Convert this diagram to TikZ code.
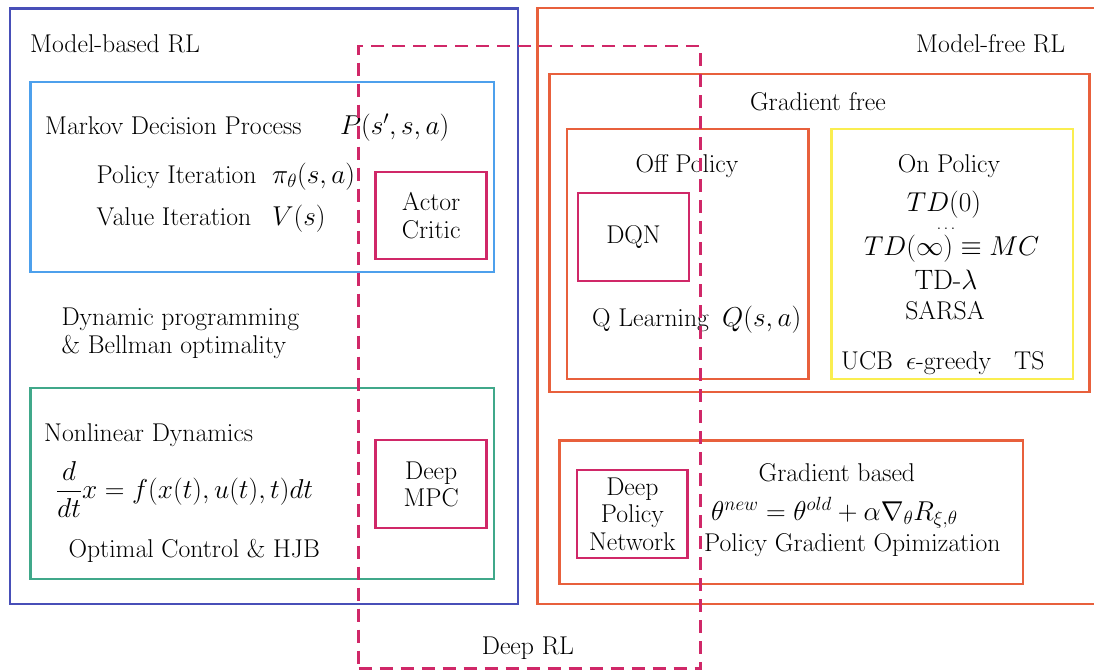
\RequirePackage{fix-cm}
\documentclass[tikz,border=0pt]{standalone}
\usepackage[OT1]{fontenc}
\renewcommand\rmdefault{cmr}
\usetikzlibrary{fit}

\definecolor{mbblue}{RGB}{72,79,184}
\definecolor{mdpblue}{RGB}{77,160,236}
\definecolor{ocgreen}{RGB}{64,168,138}
\definecolor{mforange}{RGB}{232,96,60}
\definecolor{deepcol}{RGB}{208,40,104}
\definecolor{onyellow}{RGB}{250,238,80}

\newcommand\figtxt{\fontencoding{OT1}\fontfamily{cmr}\fontsize{25.7}{27.5}\selectfont}
\newcommand\figmath{\fontencoding{OT1}\fontfamily{cmr}\fontsize{27.3}{30}\selectfont}

\begin{document}
\begin{tikzpicture}[x=1pt,y=-1pt,
  frame/.style={draw=#1, line width=2.6pt, inner sep=0pt},
  leaf/.style={draw=deepcol, line width=2.6pt, inner sep=0pt,
    minimum width=111pt, minimum height=87pt, align=center, font=\figtxt},
  lbl/.style={inner sep=0pt, font=\figtxt},
  mlbl/.style={inner sep=0pt, font=\figmath},
  deepframe/.style={draw=deepcol, line width=2.8pt, inner sep=0pt,
    dash pattern=on 13pt off 8pt},
]
\useasboundingbox (0,0) rectangle (1094,670);
\clip (0,0) rectangle (1094,670);

% ---- model-based side ----
\node[frame=mbblue,  fit={(10,8.5) (518,604)}]   (mb)     {};
\node[frame=mdpblue, fit={(30.5,82) (494,272)}]  (mdpbox) {};
\node[frame=ocgreen, fit={(30.5,388) (494,579)}] (ocbox)  {};

\node[lbl, anchor=base west] (mbtitle) at (30,52) {Model-based RL};
\node[lbl, anchor=base west] (mdp) at (45,134) {Markov Decision Process};
\node[mlbl, anchor=base west] (mdpP) at (340,134) {$P(s',s,a)$};
\node[lbl, anchor=base west] (pi) at (96.5,183) {Policy Iteration};
\node[mlbl, anchor=base west] (piM) at (272,183) {$\pi_\theta(s,a)$};
\node[lbl, anchor=base west] (vi) at (96.5,225) {Value Iteration};
\node[mlbl, anchor=base west] (viM) at (272,225) {$V(s)$};
\node[leaf] (ac) at (431.2,215.5) {Actor\\Critic};

\node[lbl, anchor=base west] (dp1) at (61.4,325) {Dynamic programming};
\node[lbl, anchor=base west] (dp2) at (61.4,353) {\& Bellman optimality};

\node[lbl, anchor=base west] (nd) at (44,441) {Nonlinear Dynamics};
\node[mlbl, anchor=base west] (ode) at (56,498.5)
  {$\displaystyle\frac{d}{dt}x=f(x(t),u(t),t)dt$};
\node[lbl, anchor=base west] (oc) at (68.4,557) {Optimal Control \& HJB};
\node[leaf, minimum height=88pt] (mpc) at (431.2,484) {Deep\\MPC};

% ---- model-free side ----
\node[frame=mforange, fit={(537.5,8) (1100,604)}]     (mf)    {};
\node[frame=mforange, fit={(549.5,74) (1089.5,392)}]  (gfbox) {};
\node[frame=mforange, fit={(567,129) (808.5,379)}]    (offbox){};
\node[frame=onyellow, fit={(831.5,129) (1073,379)}]   (onbox) {};
\node[frame=mforange, fit={(559.4,440.7) (1023,584)}] (gbbox) {};

\node[lbl, anchor=base west] (mftitle) at (916,52) {Model-free RL};
\node[lbl, anchor=base] (gf) at (818,110) {Gradient free};

\node[lbl, anchor=base] (off) at (687,172.7) {Off Policy};
\node[leaf, minimum height=88pt] (dqn) at (633.5,237) {DQN};
\node[lbl, anchor=base west] (ql) at (592,326.7) {Q Learning};
\node[mlbl, anchor=base west] (qM) at (722,326.7) {$Q(s,a)$};

\node[lbl, anchor=base] (on) at (949,172.7) {On Policy};
\node[mlbl, anchor=base] (td0) at (944,211.7) {$TD(0)$};
\node[inner sep=0pt, anchor=base, font=\fontsize{16}{18}\selectfont]
  (tddots) at (946,229) {$\ldots$};
\node[mlbl, anchor=base] (tdinf) at (951.7,255) {$TD(\infty)\equiv MC$};
\node[inner sep=0pt, anchor=base, font=\fontencoding{OT1}\fontfamily{cmr}\fontsize{28}{30}\selectfont]
  (tdl) at (946,289) {TD-$\lambda$};
\node[inner sep=0pt, anchor=base, font=\fontencoding{OT1}\fontfamily{cmr}\fontsize{25.7}{28}\selectfont]
  (sarsa) at (945,319) {SARSA};
\node[lbl, anchor=base west] (expl) at (841,369)
  {UCB\hspace{13pt}$\epsilon$-greedy\hspace{23pt}TS};

\node[leaf, minimum width=110.7pt, minimum height=87.7pt] (dpn) at (632.4,514)
  {Deep\\Policy\\Network};
\node[lbl, anchor=base] (gb) at (837,481.7) {Gradient based};
\node[mlbl, anchor=base west] (pg) at (711,520)
  {$\theta^{new}=\theta^{old}+\alpha\nabla_\theta R_{\xi,\theta}$};
\node[lbl, anchor=base west] (pgo) at (704,551.7) {Policy Gradient Opimization};

% ---- deep RL region, on top ----
\node[lbl, anchor=base] (drl) at (528,654) {Deep RL};
\node[deepframe, fit={(358.5,46) (700.5,668.5)}] (deeprl) {};
\end{tikzpicture}
\end{document}
